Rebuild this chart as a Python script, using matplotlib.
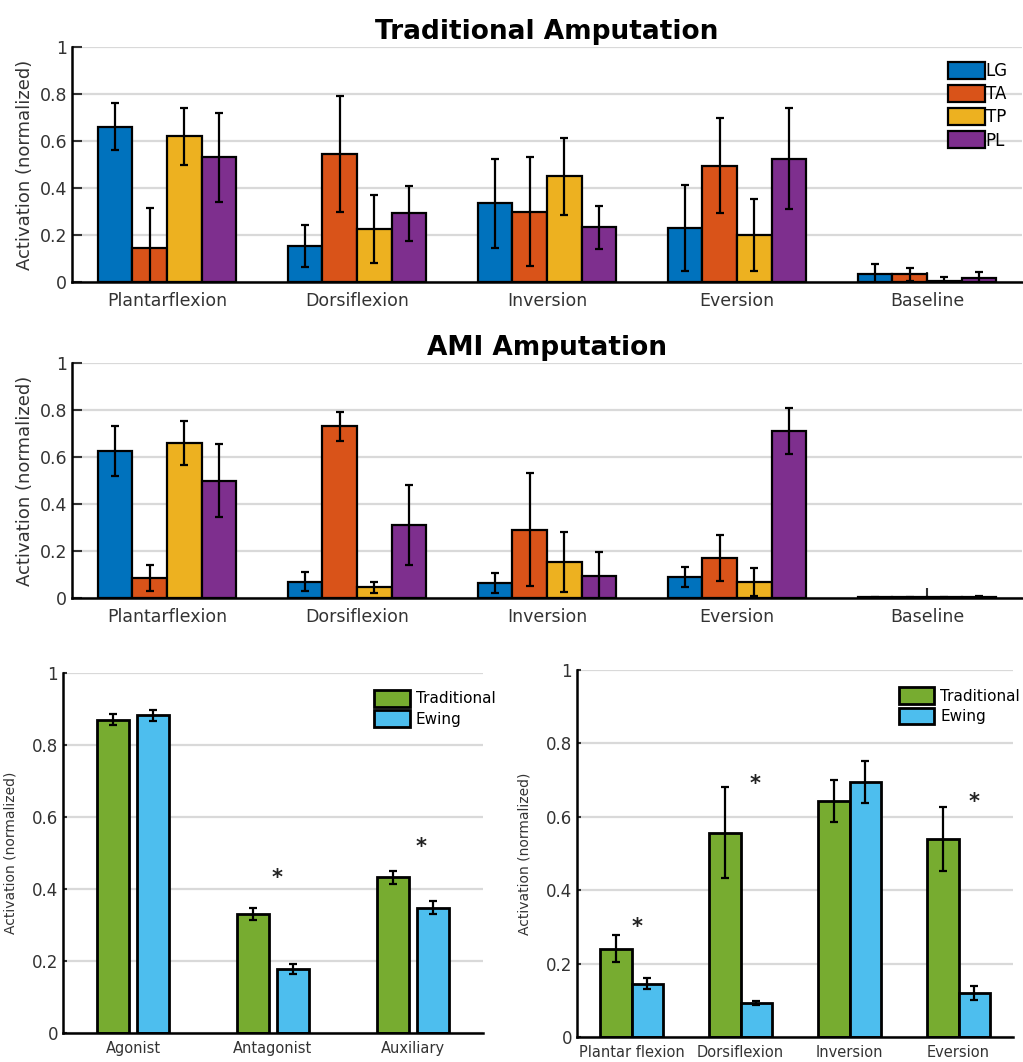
import matplotlib
matplotlib.use("Agg")
import matplotlib.pyplot as plt
import numpy as np

plt.rcParams['font.family'] = ['DejaVu Sans']

# ---------------- data ----------------
movements = ["Plantarflexion", "Dorsiflexion", "Inversion", "Eversion", "Baseline"]
muscles = ["LG", "TA", "TP", "PL"]
muscle_colors = ["#0072BD", "#D95319", "#EDB120", "#7E2F8E"]

trad_LG = [0.66, 0.153, 0.335, 0.23, 0.033]
trad_TA = [0.145, 0.545, 0.30, 0.495, 0.033]
trad_TP = [0.62, 0.225, 0.45, 0.20, 0.005]
trad_PL = [0.53, 0.293, 0.232, 0.525, 0.017]
trad_LG_err = [0.10, 0.09, 0.19, 0.183, 0.043]
trad_TA_err = [0.17, 0.245, 0.23, 0.203, 0.027]
trad_TP_err = [0.122, 0.145, 0.163, 0.155, 0.015]
trad_PL_err = [0.19, 0.117, 0.093, 0.215, 0.025]

ami_LG = [0.625, 0.07, 0.064, 0.09, 0.003]
ami_TA = [0.085, 0.73, 0.29, 0.17, 0.003]
ami_TP = [0.66, 0.045, 0.153, 0.068, 0.003]
ami_PL = [0.50, 0.31, 0.094, 0.71, 0.004]
ami_LG_err = [0.105, 0.04, 0.043, 0.043, 0.002]
ami_TA_err = [0.055, 0.06, 0.24, 0.096, 0.002]
ami_TP_err = [0.095, 0.025, 0.127, 0.058, 0.002]
ami_PL_err = [0.155, 0.17, 0.10, 0.098, 0.003]

roles = ["Agonist", "Antagonist", "Auxiliary"]
role_trad = [0.87, 0.33, 0.432]
role_trad_err = [0.015, 0.017, 0.018]
role_ewing = [0.883, 0.178, 0.348]
role_ewing_err = [0.015, 0.013, 0.018]
role_star_y = [None, 0.43, 0.517]

motions = ["Plantar flexion", "Dorsiflexion", "Inversion", "Eversion"]
motion_trad = [0.24, 0.557, 0.643, 0.54]
motion_trad_err = [0.037, 0.123, 0.057, 0.087]
motion_ewing = [0.145, 0.093, 0.695, 0.12]
motion_ewing_err = [0.015, 0.006, 0.058, 0.02]
motion_star_y = [0.30, 0.69, None, 0.64]

group_labels = ["Traditional", "Ewing"]
group_colors = ["#77AC30", "#4DBEEE"]
yticks = [0, 0.2, 0.4, 0.6, 0.8, 1]
yticklabels = ["0", "0.2", "0.4", "0.6", "0.8", "1"]

# ---------------- figure ----------------
W, H = 1023, 1062
fig = plt.figure(figsize=(W / 100, H / 100), dpi=100)


def px_axes(l, t, r, b):
    return fig.add_axes([l / W, 1 - b / H, (r - l) / W, (b - t) / H])


def style_axes(ax, fs_tick, tick_len):
    for s in ["top", "right"]:
        ax.spines[s].set_visible(False)
    for s in ["left", "bottom"]:
        ax.spines[s].set_linewidth(1.8)
    ax.set_ylim(0, 1)
    ax.set_yticks(yticks)
    ax.set_yticklabels(yticklabels)
    ax.yaxis.grid(True, color="#d9d9d9", linewidth=1.6)
    ax.set_axisbelow(True)
    ax.tick_params(axis="both", direction="in", length=tick_len, width=1.5,
                   labelsize=fs_tick, colors="#333333", labelcolor="#333333")
    ax.tick_params(axis="x", pad=7)


def muscle_panel(ax, vals, errs, title):
    x = np.arange(1, len(movements) + 1)
    bw = 0.182
    handles = []
    for i, (v, e, c) in enumerate(zip(vals, errs, muscle_colors)):
        off = (i - 1.5) * bw
        b = ax.bar(x + off, v, bw, color=c, edgecolor="black", linewidth=1.6,
                   label=muscles[i], zorder=2)
        ax.errorbar(x + off, v, yerr=e, fmt="none", ecolor="black",
                    elinewidth=1.6, capsize=3, capthick=1.6, zorder=3)
        handles.append(b)
    ax.set_xlim(0.5, len(movements) + 0.5)
    ax.set_xticks(x)
    ax.set_xticklabels(movements)
    style_axes(ax, 12.5, 7)
    ax.set_ylabel("Activation (normalized)", fontsize=13, color="#333333", labelpad=4)
    ax.set_title(title, fontsize=19, fontweight="bold", pad=6)
    return handles


ax1 = px_axes(72, 47, 1022, 282)
h = muscle_panel(ax1, [trad_LG, trad_TA, trad_TP, trad_PL],
                 [trad_LG_err, trad_TA_err, trad_TP_err, trad_PL_err],
                 "Traditional Amputation")
ax1.legend(handles=h, loc="upper right", bbox_to_anchor=(0.992, 0.965), frameon=False,
           fontsize=12, handlelength=2.2, handleheight=1.2, handletextpad=0.05,
           labelspacing=0.3, borderaxespad=0)

ax2 = px_axes(72, 363, 1022, 598)
muscle_panel(ax2, [ami_LG, ami_TA, ami_TP, ami_PL],
             [ami_LG_err, ami_TA_err, ami_TP_err, ami_PL_err],
             "AMI Amputation")


def compare_panel(ax, cats, v1, e1, v2, e2, stars, bw, off, star_dx, leg_x):
    x = np.arange(1, len(cats) + 1)
    hs = []
    for vals, errs, c, lab, sgn in [(v1, e1, group_colors[0], group_labels[0], -1),
                                     (v2, e2, group_colors[1], group_labels[1], 1)]:
        b = ax.bar(x + sgn * off, vals, bw, color=c, edgecolor="black",
                   linewidth=2.0, label=lab, zorder=2)
        ax.errorbar(x + sgn * off, vals, yerr=errs, fmt="none", ecolor="black",
                    elinewidth=1.6, capsize=3, capthick=1.6, zorder=3)
        hs.append(b)
    for xi, sy, dx in zip(x, stars, star_dx):
        if sy is not None:
            ax.text(xi + dx, sy, "*", ha="center", va="center", fontsize=15,
                    fontweight="bold", color="#222222")
    ax.set_xlim(0.5, len(cats) + 0.5)
    ax.set_xticks(x)
    ax.set_xticklabels(cats)
    style_axes(ax, 12, 3)
    ax.tick_params(axis="x", labelsize=10.5, pad=6, length=0)
    ax.set_ylabel("Activation (normalized)", fontsize=10, color="#333333", labelpad=10)
    ax.legend(handles=hs, loc="upper right", bbox_to_anchor=(leg_x, 0.97),
              frameon=False, fontsize=11, handlelength=2.3, handleheight=1.3,
              handletextpad=0.4, labelspacing=0.25, borderaxespad=0)


ax3 = px_axes(63, 673, 483, 1033)
compare_panel(ax3, roles, role_trad, role_trad_err, role_ewing, role_ewing_err,
              role_star_y, 0.23, 0.143, [0, 0.03, 0.06], 1.044)

ax4 = px_axes(577, 670, 1013, 1037)
compare_panel(ax4, motions, motion_trad, motion_trad_err, motion_ewing,
              motion_ewing_err, motion_star_y, 0.29, 0.145, [0.05, 0.13, 0, 0.14], 1.03)

fig.savefig("out.png", dpi=100)
